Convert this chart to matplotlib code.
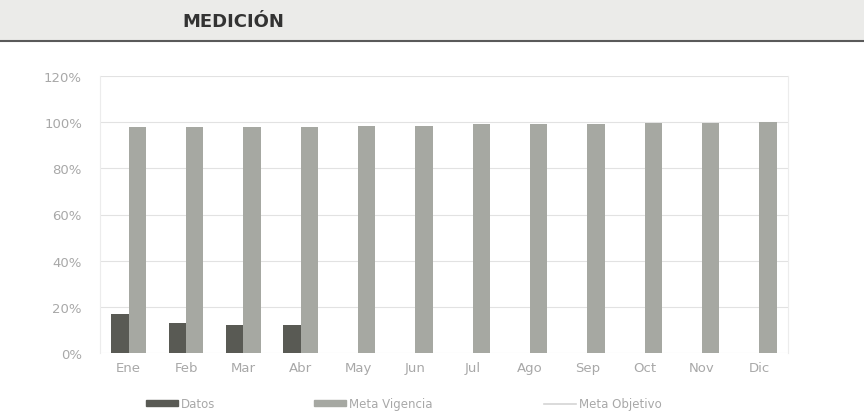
import matplotlib
matplotlib.use("Agg")
import matplotlib.pyplot as plt
import numpy as np
from matplotlib.lines import Line2D
from matplotlib.patches import Rectangle

months = ["Ene", "Feb", "Mar", "Abr", "May", "Jun", "Jul", "Ago", "Sep", "Oct", "Nov", "Dic"]
datos = [0.17, 0.13, 0.12, 0.12, np.nan, np.nan, np.nan, np.nan, np.nan, np.nan, np.nan, np.nan]
meta_vigencia = [0.98, 0.98, 0.98, 0.98, 0.985, 0.985, 0.99, 0.99, 0.99, 0.995, 0.995, 1.0]
meta_objetivo = [np.nan] * 12
yticks = [0, 0.2, 0.4, 0.6, 0.8, 1.0, 1.2]
ytick_labels = ["0%", "20%", "40%", "60%", "80%", "100%", "120%"]

C_DATOS = "#595a54"
C_META = "#a6a8a2"
C_OBJ = "#d4d4d4"
C_TXT = "#a8a8a8"

fig = plt.figure(figsize=(8.64, 4.14), dpi=100)
fig.patch.set_facecolor("white")

# header band
fig.add_artist(Rectangle((0, 1 - 41 / 414), 1, 41 / 414, transform=fig.transFigure,
                         facecolor="#ebebe9", edgecolor="none", zorder=0))
fig.add_artist(Line2D([0, 1], [1 - 42 / 414, 1 - 42 / 414], transform=fig.transFigure,
                      color="#5a5a5a", lw=1.5))
fig.text(182 / 864, 1 - 22 / 414, "MEDICIÓN", fontsize=13, fontweight="bold",
         color="#333333", va="center", ha="left")

ax = fig.add_axes([100 / 864, 1 - 354 / 414, 688 / 864, 277 / 414])
x = np.arange(len(months))
w = 0.3
ax.bar(x - w / 2, datos, width=w, color=C_DATOS, label="Datos", zorder=3)
ax.bar(x + w / 2, meta_vigencia, width=w, color=C_META, label="Meta Vigencia", zorder=3)
ax.plot(x, meta_objetivo, color=C_OBJ, lw=1.2, label="Meta Objetivo", zorder=4)

ax.set_xlim(-0.5, len(months) - 0.5)
ax.set_ylim(0, 1.2)
ax.set_yticks(yticks)
ax.set_yticklabels(ytick_labels)
ax.set_xticks(x)
ax.set_xticklabels(months)
ax.tick_params(axis="y", length=0, pad=13, labelsize=9.5, labelcolor=C_TXT)
ax.tick_params(axis="x", length=0, pad=6, labelsize=9.5, labelcolor=C_TXT)
ax.grid(axis="y", color="#e2e2e2", lw=0.8, zorder=0)
for s in ["top", "bottom"]:
    ax.spines[s].set_visible(False)
ax.spines["left"].set_color("#ececec")
ax.spines["right"].set_color("#ececec")

entries = [
    (146, Rectangle((0, 0), 1, 1, color=C_DATOS), "Datos"),
    (314, Rectangle((0, 0), 1, 1, color=C_META), "Meta Vigencia"),
    (544, Line2D([0], [0], color=C_OBJ, lw=1.2), "Meta Objetivo"),
]
for xs, h, lab in entries:
    leg = fig.legend([h], [lab], loc="center left",
                     bbox_to_anchor=(xs / 864, 1 - 405 / 414), frameon=False,
                     fontsize=8.5, handlelength=2.7, handleheight=0.45,
                     handletextpad=0.25, borderpad=0, borderaxespad=0)
    for t in leg.get_texts():
        t.set_color(C_TXT)

fig.savefig("out.png", dpi=100)
